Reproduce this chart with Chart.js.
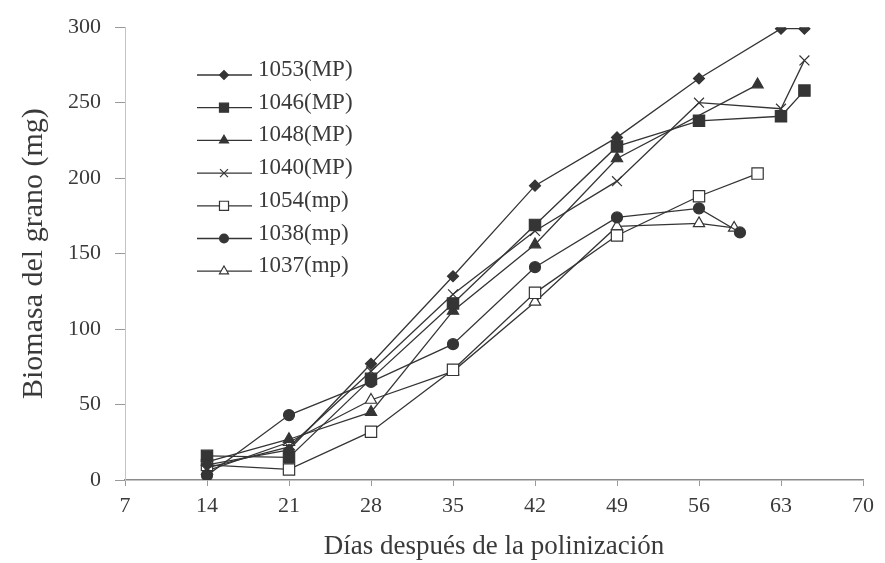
<!DOCTYPE html>
<html>
<head>
<meta charset="utf-8">
<script src="https://cdn.jsdelivr.net/npm/chart.js@4/dist/chart.umd.min.js"></script>
<style>
  html, body { margin: 0; padding: 0; background: #fff; }
  canvas { display: block; }
</style>
</head>
<body>
<canvas id="myChart" width="885" height="563"></canvas>
<script>
// series names (legend)
var seriesNames = ['1053(MP)', '1046(MP)', '1048(MP)', '1040(MP)', '1054(mp)', '1038(mp)', '1037(mp)'];

// days after pollination / grain biomass (mg)
var days1053 = [14, 21, 28, 35, 42, 49, 56, 63, 65];
var bio1053  = [10, 20, 77, 135, 195, 227, 266, 299, 299];

var days1046 = [14, 21, 28, 35, 42, 49, 56, 63, 65];
var bio1046  = [16, 15, 67, 117, 169, 221, 238, 241, 258];

var days1048 = [14, 21, 28, 35, 42, 49, 61];
var bio1048  = [12, 27, 45, 112, 156, 213, 262];

var days1040 = [14, 21, 28, 35, 42, 49, 56, 63, 65];
var bio1040  = [8, 22, 72, 123, 165, 198, 250, 246, 278];

var days1054 = [14, 21, 28, 35, 42, 49, 56, 61];
var bio1054  = [10, 7, 32, 73, 124, 162, 188, 203];

var days1038 = [14, 21, 28, 35, 42, 49, 56, 59.5];
var bio1038  = [3, 43, 65, 90, 141, 174, 180, 164];

var days1037 = [14, 21, 28, 35, 42, 49, 56, 59];
var bio1037  = [6, 25, 53, 72, 118, 168, 170, 167];

// axis ticks
var xTicks = [7, 14, 21, 28, 35, 42, 49, 56, 63, 70];
var yTicks = [0, 50, 100, 150, 200, 250, 300];

var ink = '#353535';
var textInk = '#3a3a3a';
var serif = "'Liberation Serif', 'DejaVu Serif', serif";

function pairs(xs, ys) {
    var out = [];
    for (var i = 0; i < xs.length; i++) {
        out.push({x: xs[i], y: ys[i]});
    }
    return out;
}

function makeSet(label, xs, ys, style, radius, filled) {
    return {
        label: label,
        data: pairs(xs, ys),
        borderColor: ink,
        borderWidth: 1.3,
        pointStyle: style,
        pointRadius: radius,
        pointBorderWidth: 1.2,
        pointBorderColor: ink,
        pointBackgroundColor: filled ? ink : '#ffffff',
        fill: false,
        tension: 0
    };
}

// legend drawn inside the plot, top left
var insideLegend = {
    id: 'insideLegend',
    afterDraw: function (chart) {
        var ctx = chart.ctx;
        var top = 70, gap = 32.7;
        chart.data.datasets.forEach(function (ds, i) {
            var y = top + i * gap;
            ctx.save();
            ctx.strokeStyle = ink;
            ctx.lineWidth = 1.3;
            ctx.beginPath();
            ctx.moveTo(197, y + 5);
            ctx.lineTo(252, y + 5);
            ctx.stroke();
            ctx.fillStyle = ds.pointBackgroundColor;
            ctx.strokeStyle = ink;
            ctx.lineWidth = 1.2;
            Chart.helpers.drawPoint(ctx, {
                pointStyle: ds.pointStyle,
                radius: ds.pointRadius * 0.8,
                rotation: 0,
                borderWidth: 1.2
            }, 224, y + 5);
            ctx.fillStyle = textInk;
            ctx.font = '23px ' + serif;
            ctx.textAlign = 'left';
            ctx.textBaseline = 'middle';
            ctx.fillText(ds.label, 258, y);
            ctx.restore();
        });
    }
};

var ctx = document.getElementById('myChart').getContext('2d');

var chart = new Chart(ctx, {
    type: 'line',
    data: {
        datasets: [
            makeSet(seriesNames[0], days1053, bio1053, 'rectRot', 5.5, true),
            makeSet(seriesNames[1], days1046, bio1046, 'rect', 8, true),
            makeSet(seriesNames[2], days1048, bio1048, 'triangle', 6.5, true),
            makeSet(seriesNames[3], days1040, bio1040, 'crossRot', 7, true),
            makeSet(seriesNames[4], days1054, bio1054, 'rect', 8, false),
            makeSet(seriesNames[5], days1038, bio1038, 'circle', 5.5, true),
            makeSet(seriesNames[6], days1037, bio1037, 'triangle', 6.5, false)
        ]
    },
    options: {
        responsive: false,
        animation: false,
        devicePixelRatio: 1,
        layout: { padding: { top: 24, right: 22, left: 0, bottom: 0 } },
        plugins: {
            legend: { display: false },
            tooltip: { enabled: false }
        },
        scales: {
            x: {
                type: 'linear',
                min: 7,
                max: 70,
                afterFit: function (scale) { scale.height = 83; },
                afterBuildTicks: function (scale) {
                    scale.ticks = xTicks.map(function (v) { return {value: v}; });
                },
                border: { display: true, color: '#8a8a8a', width: 1.5 },
                grid: { drawOnChartArea: false, drawTicks: true, tickLength: 6, color: '#9a9a9a' },
                ticks: {
                    color: textInk,
                    padding: 7,
                    font: { family: serif, size: 22 }
                },
                title: {
                    display: true,
                    text: 'Días después de la polinización',
                    color: textInk,
                    font: { family: serif, size: 27 },
                    padding: { top: 0, bottom: 0 }
                }
            },
            y: {
                type: 'linear',
                min: 0,
                max: 300,
                afterFit: function (scale) { scale.width = 125; },
                afterBuildTicks: function (scale) {
                    scale.ticks = yTicks.map(function (v) { return {value: v}; });
                },
                border: { display: true, color: '#c4c4c4', width: 1 },
                grid: { drawOnChartArea: false, drawTicks: true, tickLength: 10, color: '#9a9a9a' },
                ticks: {
                    color: textInk,
                    padding: 14,
                    font: { family: serif, size: 22 }
                },
                title: {
                    display: true,
                    text: 'Biomasa del grano (mg)',
                    color: textInk,
                    font: { family: serif, size: 30 },
                    padding: { top: 16, bottom: 0 }
                }
            }
        }
    },
    plugins: [insideLegend]
});
</script>
</body>
</html>
